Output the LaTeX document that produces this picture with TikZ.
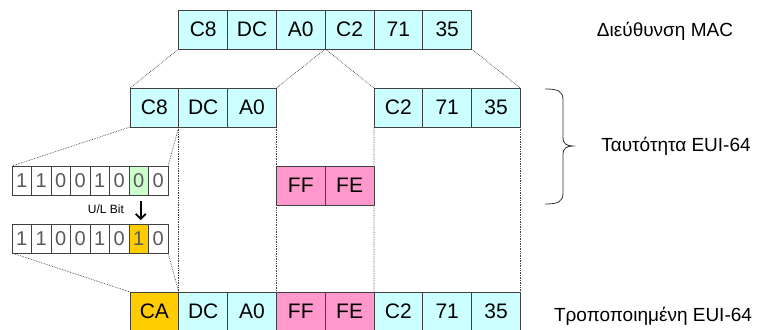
\documentclass[tikz,border=0pt]{standalone}
\usepackage{fontspec}
\setmainfont{Liberation Sans}
\usetikzlibrary{arrows.meta}
\definecolor{cyanc}{HTML}{CCFFFF}
\definecolor{pinkc}{HTML}{FF99CC}
\definecolor{orangec}{HTML}{FFCC00}
\definecolor{greenc}{HTML}{CCFFCC}
\begin{document}
\begin{tikzpicture}[x=1pt,y=-1pt,
  cell/.style={draw=black!75,line width=0.8pt,minimum width=48.8pt,minimum height=39pt,inner sep=0pt,outer sep=0pt,font=\fontsize{21}{24}\selectfont,anchor=north west},
  mac/.style={cell,fill=cyanc},
  ffc/.style={cell,fill=pinkc},
  cac/.style={cell,fill=orangec},
  bit/.style={draw=black!75,line width=0.8pt,minimum width=19.5pt,minimum height=29pt,inner sep=0pt,outer sep=0pt,font=\fontsize{20}{23}\selectfont,text=black!65,anchor=north west},
  conn/.style={densely dotted,line width=0.7pt,draw=black!75},
  lbl/.style={font=\fontsize{19}{22}\selectfont}]
\useasboundingbox (0,0) rectangle (759,329);
% top row: MAC
\node[mac] (t1) at (178.8,10) {C8};
\node[mac] (t2) at (227.6,10) {DC};
\node[mac] (t3) at (276.4,10) {A0};
\node[mac] (t4) at (325.2,10) {C2};
\node[mac] (t5) at (374.0,10) {71};
\node[mac] (t6) at (422.8,10) {35};
% second row
\node[mac] (a1) at (130.0,88) {C8};
\node[mac] (a2) at (178.8,88) {DC};
\node[mac] (a3) at (227.6,88) {A0};
\node[mac] (b1) at (374.0,88) {C2};
\node[mac] (b2) at (422.8,88) {71};
\node[mac] (b3) at (471.6,88) {35};
% FF FE
\node[ffc] (f1) at (276.4,166) {FF};
\node[ffc] (f2) at (325.2,166) {FE};
% bottom row
\node[cac] (c1) at (130.0,292) {CA};
\node[mac] (c2) at (178.8,292) {DC};
\node[mac] (c3) at (227.6,292) {A0};
\node[ffc] (c4) at (276.4,292) {FF};
\node[ffc] (c5) at (325.2,292) {FE};
\node[mac] (c6) at (374.0,292) {C2};
\node[mac] (c7) at (422.8,292) {71};
\node[mac] (c8) at (471.6,292) {35};
% bits
\node[bit] (u1) at (12.0,166) {1};
\node[bit] (u2) at (31.5,166) {1};
\node[bit] (u3) at (51.0,166) {0};
\node[bit] (u4) at (70.5,166) {0};
\node[bit] (u5) at (90.0,166) {1};
\node[bit] (u6) at (109.5,166) {0};
\node[bit,fill=greenc] (u7) at (129.0,166) {0};
\node[bit] (u8) at (148.5,166) {0};
\node[bit] (v1) at (12.0,224) {1};
\node[bit] (v2) at (31.5,224) {1};
\node[bit] (v3) at (51.0,224) {0};
\node[bit] (v4) at (70.5,224) {0};
\node[bit] (v5) at (90.0,224) {1};
\node[bit] (v6) at (109.5,224) {0};
\node[bit,fill=orangec] (v7) at (129.0,224) {1};
\node[bit] (v8) at (148.5,224) {0};
\node[font=\fontsize{12}{14}\selectfont] (ul) at (106,209) {U/L Bit};
\draw[line width=1.6pt,-{Straight Barb[length=5pt,width=10pt]},shorten <=6pt,shorten >=4pt] ([xshift=2pt]u7.south) -- ([xshift=2pt]v7.north);
% connectors
\draw[conn] (t1.south west) -- (a1.north west);
\draw[conn] (t4.south west) -- (a3.north east);
\draw[conn] (t4.south west) -- (b1.north west);
\draw[conn] (t6.south east) -- (b3.north east);
\draw[conn] (a2.south west) -- (c2.north west);
\draw[conn] (a3.south east) -- (f1.north west);
\draw[conn] (f1.south west) -- (c4.north west);
\draw[conn] (b1.south west) -- (f2.north east);
\draw[conn] (f2.south east) -- (c6.north west);
\draw[conn] (b3.south east) -- (c8.north east);
\draw[conn] (a1.south west) -- (u1.north west);
\draw[conn] (a1.south east) -- (u8.north east);
\draw[conn] (v1.south west) -- (c1.north west);
\draw[conn] (v8.south east) -- (c1.north east);
% labels
\node[lbl] (lmac) at (665,31) {Διεύθυνση MAC};
\node[lbl] (leui) at (676,146) {Ταυτότητα EUI-64};
\node[lbl] (lmod) at (653,316) {Τροποποιημένη EUI-64};
% brace
\coordinate (brt) at (545,89);
\coordinate (brm) at (573,146);
\coordinate (brb) at (545,204);
\draw[line width=0.8pt,black!80] (brt) .. controls (558,89) and (563,91) .. (563,100) -- (563,138) .. controls (563,143) and (566,146) .. (brm) .. controls (566,146) and (563,149) .. (563,154) -- (563,193) .. controls (563,202) and (558,204) .. (brb);
\end{tikzpicture}
\end{document}
